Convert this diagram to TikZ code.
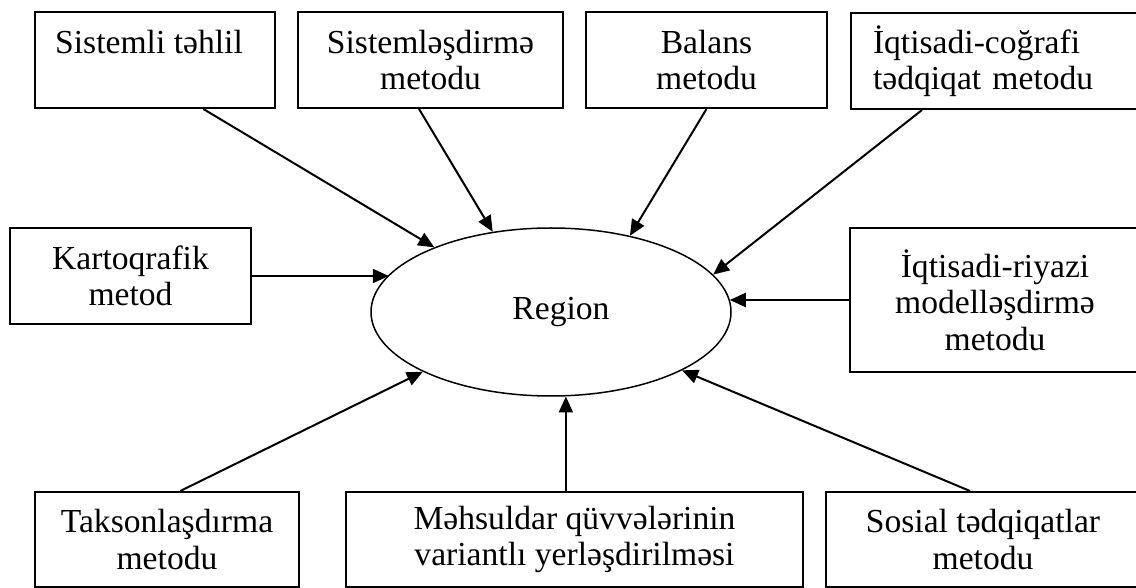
\documentclass[tikz,border=0pt]{standalone}
\usepackage{fontspec}
\setmainfont{Liberation Serif}
\usetikzlibrary{positioning,arrows.meta,calc,shapes.geometric}

\begin{document}
\begin{tikzpicture}[
    x=0.5pt,
    y=-0.5pt,
    font=\fontsize{16.8}{18.2}\selectfont,
    box/.style={
        draw,
        line width=1pt,
        inner sep=0pt,
        minimum height=48pt,
        align=center
    },
    region/.style={
        ellipse,
        draw,
        line width=0.75pt,
        inner sep=0pt,
        minimum width=180pt,
        minimum height=84pt
    },
    arrow/.style={-{Triangle[length=8pt,width=7pt]}, line width=1pt}
]
\useasboundingbox (0,0) rectangle (1136,588);
\clip (0,0) rectangle (1136,588);

% ============================================================
% MERKEZ
% ============================================================
\node[region] (reg) at (551,312) {\hspace*{10pt}Region};

% ============================================================
% YUXARI SIRA
% ============================================================
\node[box, minimum width=120pt] (tehlil) at (155,60) {Sistemli təhlil\hspace*{6pt}\\~};
\node[box, minimum width=132.5pt] (sistem) at (430.5,60) {Sistemləşdirmə\\metodu};
\node[box, minimum width=120.5pt] (balans) at (706.5,60) {Balans\\metodu};
\node[box, anchor=north west, text width=128pt, inner xsep=11pt, align=left]
    (cografi) at (850,12) {İqtisadi-coğrafi\\tədqiqat metodu};

% ============================================================
% ORTA SIRA
% ============================================================
\node[box, minimum width=120.5pt] (kart) at (130.5,276) {Kartoqrafik\\metod};
\node[box, minimum width=145pt, minimum height=72pt] (riyazi) at (995,300)
    {İqtisadi-riyazi\\modelləşdirmə\\metodu};

% ============================================================
% AŞAĞI SIRA
% ============================================================
\node[box, minimum width=132pt, minimum height=47.5pt] (takson) at (167,539.5)
    {Taksonlaşdırma\\metodu};
\node[box, minimum width=228.5pt, minimum height=47.5pt] (mehsul) at (574.5,539.5)
    {Məhsuldar qüvvələrinin\\variantlı yerləşdirilməsi};
\node[box, minimum width=157pt, minimum height=47.5pt] (sosial) at (983,539.5)
    {Sosial tədqiqatlar\\metodu};

% ============================================================
% OXLAR
% ============================================================
\draw[arrow] ($(tehlil.south west)!0.7!(tehlil.south east)$) -- (reg.151);
\draw[arrow] ($(sistem.south west)!0.457!(sistem.south east)$) -- (reg.126);
\draw[arrow] (balans.south) -- (reg.44);
\draw[arrow] ($(cografi.south west)+(72,0)$) -- (reg.13);
\draw[arrow] (kart.east) -- (kart.east -| reg.167);
\draw[arrow] (riyazi.west) -- (riyazi.west -| reg.4);
\draw[arrow] ($(takson.north west)!0.55!(takson.north east)$) -- (reg.205);
\draw[arrow] (reg.280 |- mehsul.north) -- (reg.280);
\draw[arrow] ($(sosial.north west)+(145,0)$) -- (reg.336);

\end{tikzpicture}
\end{document}
